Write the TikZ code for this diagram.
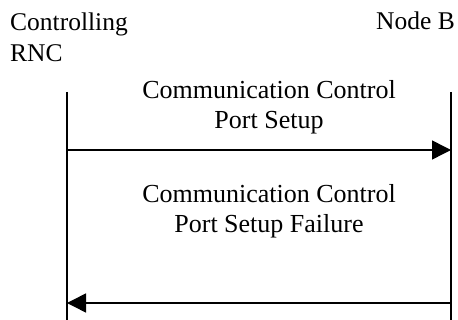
\documentclass[tikz,border=0pt]{standalone}
\usepackage{fontspec}
\setmainfont{Liberation Serif}
\usepackage{xcolor}
\usepackage{tikz}
\usetikzlibrary{arrows.meta,positioning}

\begin{document}
\begin{tikzpicture}[
  x=1pt, y=-1pt,
  entity/.style={
    inner sep=0pt,
    align=left,
    font=\fontsize{25.5}{31.5}\selectfont
  },
  msglabel/.style={
    inner sep=0pt,
    align=center,
    font=\fontsize{26}{30.5}\selectfont
  },
  lifeline/.style={
    draw=black,
    line width=1.5pt
  },
  msg/.style={
    -{Triangle[length=19pt,width=19pt]},
    draw=black,
    line width=1.5pt
  }
]
\useasboundingbox (0,0) rectangle (458,320);

% Entities
\node[entity, anchor=base west] (crnc) at (10,62) {Controlling\\RNC};
\node[entity, anchor=base east] (nodeb) at (455,30) {Node B};

% Lifeline ends
\coordinate (crncTop) at (67,92);
\coordinate (crncBot) at (67,320);
\coordinate (nodebTop) at (451,92);
\coordinate (nodebBot) at (451,320);

\draw[lifeline] (crncTop) -- (crncBot);
\draw[lifeline] (nodebTop) -- (nodebBot);

% Setup request
\node[msglabel, anchor=base] (setuplbl) at (269,129) {Communication Control\\Port Setup};
\coordinate (setupFrom) at (67,150);
\coordinate (setupTo) at (451,150);
\draw[msg] (setupFrom) -- (setupTo);

% Failure response
\node[msglabel, anchor=base] (faillbl) at (269,233) {Communication Control\\Port Setup Failure};
\coordinate (failFrom) at (451,303);
\coordinate (failTo) at (67,303);
\draw[msg] (failFrom) -- (failTo);

\end{tikzpicture}
\end{document}
